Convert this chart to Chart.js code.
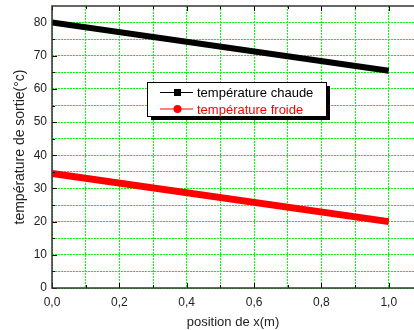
<!DOCTYPE html>
<html>
<head>
<meta charset="utf-8">
<script src="https://cdn.jsdelivr.net/npm/chart.js@4.4.0/dist/chart.umd.min.js"></script>
<style>
  html, body { margin: 0; padding: 0; background: #fff; }
  #wrap { width: 414px; height: 330px; }
</style>
</head>
<body>
<div id="wrap"><canvas id="chart" width="414" height="330"></canvas></div>
<script>
var positions = [0.0, 1.0];
var hotTemps = [80.0, 65.5];
var coldTemps = [34.5, 20.0];
var seriesNames = ['température chaude', 'température froide'];
var xTitle = 'position de x(m)';
var yTitle = 'température de sortie(°c)';

var fontFamily = '"Liberation Sans", Arial, sans-serif';

function toPoints(xs, ys) {
  return xs.map(function (x, i) { return { x: x, y: ys[i] }; });
}

// inward tick marks + frame (right side runs off the canvas like the original)
var framePlugin = {
  id: 'frame',
  afterDraw: function (chart) {
    var ctx = chart.ctx;
    var a = chart.chartArea;
    var xs = chart.scales.x, ys = chart.scales.y;
    ctx.save();
    ctx.strokeStyle = '#000';
    ctx.lineWidth = 1;
    for (var i = 0; i <= 10; i++) {
      var px = Math.round(xs.getPixelForValue(i / 10)) + 0.5;
      var len = i % 2 === 0 ? 5 : 3;
      ctx.beginPath();
      ctx.moveTo(px, a.bottom); ctx.lineTo(px, a.bottom - len);
      ctx.moveTo(px, a.top); ctx.lineTo(px, a.top + len);
      ctx.stroke();
    }
    for (var t = 0; t <= 80; t += 5) {
      var py = Math.round(ys.getPixelForValue(t)) + 0.5;
      var l = t % 10 === 0 ? 5 : 3;
      ctx.beginPath();
      ctx.moveTo(a.left, py); ctx.lineTo(a.left + l, py);
      ctx.stroke();
    }
    ctx.lineWidth = 1.5;
    ctx.strokeStyle = '#333';
    ctx.strokeRect(a.left, a.top, a.right - a.left + 4, a.bottom - a.top);
    ctx.restore();
  }
};

// legend box drawn inside the plot, like the original
var boxLegendPlugin = {
  id: 'boxLegend',
  afterDraw: function (chart) {
    var ctx = chart.ctx;
    var x0 = 147, y0 = 82, w = 179, h = 34;
    ctx.save();
    ctx.fillStyle = '#000';
    ctx.fillRect(x0 + 4, y0 + 4, w, h);
    ctx.fillStyle = '#fff';
    ctx.fillRect(x0, y0, w, h);
    ctx.strokeStyle = '#000';
    ctx.lineWidth = 1;
    ctx.strokeRect(x0 + 0.5, y0 + 0.5, w, h);
    ctx.font = '13px ' + fontFamily;
    ctx.textBaseline = 'middle';
    chart.data.datasets.forEach(function (ds, i) {
      var cy = y0 + 10.5 + i * 16.5;
      ctx.strokeStyle = ds.legendColor;
      ctx.lineWidth = 1;
      ctx.beginPath();
      ctx.moveTo(x0 + 13, cy); ctx.lineTo(x0 + 46, cy);
      ctx.stroke();
      ctx.fillStyle = ds.legendColor;
      if (i === 0) {
        ctx.fillRect(x0 + 27, cy - 3.5, 7, 7);
      } else {
        ctx.beginPath();
        ctx.arc(x0 + 30.5, cy, 4, 0, Math.PI * 2);
        ctx.fill();
      }
      ctx.fillText(ds.label, x0 + 50, cy + 1);
    });
    ctx.restore();
  }
};

function fmt(v) {
  return v.toFixed(1).replace('.', ',');
}

new Chart(document.getElementById('chart'), {
  type: 'line',
  data: {
    datasets: [
      {
        label: seriesNames[0],
        data: toPoints(positions, hotTemps),
        borderColor: '#000',
        legendColor: '#000',
        borderWidth: 6,
        pointRadius: 0,
        fill: false
      },
      {
        label: seriesNames[1],
        data: toPoints(positions, coldTemps),
        borderColor: '#ff0000',
        legendColor: '#ff0000',
        borderWidth: 7,
        pointRadius: 0,
        fill: false
      }
    ]
  },
  options: {
    responsive: false,
    animation: false,
    layout: { padding: { top: 6, right: 0, left: 12, bottom: 0 } },
    plugins: {
      legend: { display: false },
      tooltip: { enabled: false }
    },
    scales: {
      x: {
        type: 'linear',
        min: 0,
        max: 1.075,
        afterFit: function (s) {
          s.height = 42;
          s.paddingLeft = 0;
          s.paddingRight = 0;
        },
        afterBuildTicks: function (s) {
          var t = [];
          for (var i = 0; i <= 10; i++) t.push({ value: i / 10 });
          s.ticks = t;
        },
        ticks: {
          color: '#222',
          font: { family: fontFamily, size: 12 },
          padding: 7,
          maxRotation: 0,
          autoSkip: false,
          callback: function (v) {
            return Math.round(v * 10) % 2 === 0 ? fmt(v) : '';
          }
        },
        grid: {
          color: '#00ff00',
          lineWidth: 1,
          drawTicks: false,
          tickLength: 0
        },
        border: { display: false, dash: [2, 1] },
        title: {
          display: true,
          text: xTitle,
          color: '#222',
          font: { family: fontFamily, size: 13 },
          padding: { top: 2, bottom: 0 }
        }
      },
      y: {
        min: 0,
        max: 85,
        afterFit: function (s) {
          s.width = 40;
          s.paddingTop = 0;
          s.paddingBottom = 0;
        },
        afterBuildTicks: function (s) {
          var t = [];
          for (var i = 0; i <= 80; i += 5) t.push({ value: i });
          s.ticks = t;
        },
        ticks: {
          color: '#222',
          font: { family: fontFamily, size: 12 },
          padding: 5,
          autoSkip: false,
          callback: function (v) {
            return v % 10 === 0 ? String(v) : '';
          }
        },
        grid: {
          color: '#00ff00',
          lineWidth: 1,
          drawTicks: false,
          tickLength: 0
        },
        border: { display: false, dash: [2, 1] },
        title: {
          display: true,
          text: yTitle,
          color: '#222',
          font: { family: fontFamily, size: 14 },
          padding: { top: 0, bottom: 0 }
        }
      }
    }
  },
  plugins: [framePlugin, boxLegendPlugin]
});
</script>
</body>
</html>
